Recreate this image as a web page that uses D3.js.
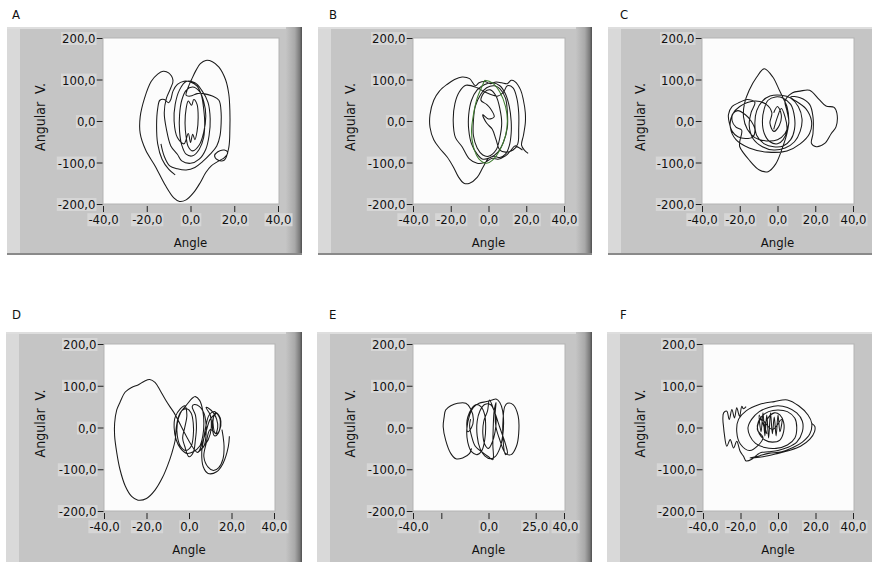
<!DOCTYPE html>
<html><head><meta charset="utf-8">
<script src="https://cdn.jsdelivr.net/npm/d3@7"></script>
<style>
body{margin:0;background:#fff;}
text{font-family:"DejaVu Sans Condensed","DejaVu Sans",sans-serif;font-size:13px;fill:#111;}
</style></head><body>
<svg id="c" width="872" height="562"></svg>
<script>
// ---------- DATA (angle, angular velocity) ----------
const panelNames = ["A","B","C","D","E","F"];
const xTicks = [-40,-20,0,20,40];
const xTicksE = [-40,-25,0,25,40];
const xTickLabelsE = ["-40,0","","0,0","25,0","40,0"];
const yTicks = [-200,-100,0,100,200];
const xLabel = "Angle";
const yLabel = "Angular  V.";

const trajA = [
[-7,-130],[-10,-116],[-13,-92],[-15,-55],[-15.5,-10],[-15,30],[-14,50],[-12,52],[-10,44],[-9,52],[-8,72],[-6,88],[-3,96],[0,94],[3,84],[5,62],[6,30],[6.5,-5],[6,-40],[4,-68],[1,-84],[-2,-80],[-4,-58],[-5,-25],[-5,15],[-4,50],[-2,74],[1,82],[4,72],[6,48],[7,12],[6,-28],[4,-58],[1,-72],[-1,-62],[-2,-38],[-2.5,-5],[-2,30],[-1,48],[0.5,38],[1.5,52],[3,40],[3.5,8],[3,-25],[2,-45],[1,-32],[0,-52],[-1,-30],[-3,-55],[-6,-40],[-7.5,0],[-7,40],[-5,75],[-2,95],[2,92],[5,75],[8,45],[9,5],[8.5,-35],[7,-68],[4,-92],[0,-102],[-4,-96],[-6,-80],
[-9,-60],[-11,-20],[-12,20],[-11,55],[-9,80],[-8,98],[-10,116],[-12.5,120],[-15,113],[-18,95],[-21,55],[-23,10],[-23,-30],[-20.5,-70],[-16,-110],[-11.5,-155],[-7.5,-186],[-5,-194],[-2,-190],[1.5,-172],[4.5,-148],[7,-124],[9.5,-108],[13,-96],[15.5,-88],[17,-76],[15.5,-70],[12.5,-74],[11,-84],[12.5,-94],[15.5,-94],[17.5,-64],[18,-20],[18,25],[17.5,65],[16,100],[13,130],[10,143],[7,146],[4.5,138],[2.5,122],[0.5,100],[-1,82],[-2,62],
[0,60],[3,66],[6,66],[10,60],[13,50],[14,20],[14,-6],[13.5,-35],[12,-60],[9,-80],[5.5,-98],[2,-112],[-2,-118],[-6,-115],[-9.5,-108],[-12,-85],[-13.5,-55]
];

const trajB = [
[21,-78],[19,-70],[17.5,-58],[18.5,-35],[19.5,-5],[19.5,20],[18.5,50],[17,75],[14,95],[12,98],[10,90],[7,92],[4,94],[1,90],[-2,95],[-5,92],[-7,85],[-10,102],[-14,106],[-18,100],[-22,88],[-26,72],[-29,50],[-31,15],[-31,-15],[-29,-45],[-26,-65],[-22,-86],[-18.7,-110],[-16,-134],[-13,-150],[-10,-150],[-6,-136],[-3,-112],[0,-90],[3,-85],[6,-88],[9,-80],[11,-60],[12,-30],[12,0],[11,35],[9,65],[6,85],[2,92],[-2,88],[-6,75],[-9,50],[-10.5,15],[-10.5,-20],[-9,-55],[-6,-80],[-3,-92],[1,-88],[5,-75],[8,-50],[10,-15],[10,20],[9,55],[6,78],[3,85],[-1,80],[-4,65],[-7,35],[-8,0],[-8,-35],[-6,-65],[-3,-82],[0,-85],[4,-70],[6,-40],[7,-5],[6,30],[4,60],[1,75],[-2,70],
[-4,50],[-1,40],[1,30],[3,10],[0,5],[-3,15],[-1,-5],[2,-20],[4,-45],
[6,-70],[9,-75],[13,-70],[15.5,-55],[16,-20],[16,20],[15,55],[13,80],[10,85],[8,70],[5,60],
[-2,70],[-6,80],[-12,86],[-15.5,70],[-17.8,42],[-18.7,0],[-17.5,-40],[-14,-62],[-10,-92],[-6,-102],[-2,-100],[2,-90],[5,-92],[9,-84],[12,-70],[14,-60],[16,-64],[18,-70]
];
const trajBGreen = [
[-2,98],[2,92],[6,70],[9,35],[10,0],[9,-35],[6,-70],[2,-95],[-1,-102],[-5,-92],[-8,-62],[-9,-25],[-8,15],[-6,55],[-3,88],[-2,98]
];

const trajC = [
[-2,-20],[0,10],[2,30],[4,10],[5,-20],[3,-45],[0,-55],[-4,-50],[-7,-30],[-8,0],[-7,30],[-5,50],[-1,58],[3,55],[7,40],[9,10],[9,-20],[7,-45],[3,-60],[-2,-62],[-7,-55],[-11,-35],[-12,-5],[-11,25],[-8,48],[-4,60],[2,62],[7,55],[11,35],[13,5],[12,-25],[9,-50],[4,-65],[-2,-70],[-8,-62],[-13,-42],[-15,-10],[-14,20],[-12,45],
[-16,52],[-20,45],[-24,35],[-26,15],[-25.5,-5],[-24,-25],[-21,-38],[-17,-42],[-13,-38],[-12,-20],[-14,0],[-17,15],[-21,25],[-23.5,18],[-24,0],[-22,-15],[-19,-22],
[-20,-50],[-20,-62],[-15,-94],[-9.6,-118],[-5,-122],[-1,-104],[2.5,-66],[5,-30],[6,0],[5,35],[3,55],[1,74],[-2.5,106],[-7,126],[-11,106],[-15,74],[-17.5,42],[-18,10],[-16,-20],[-12,-40],[-6,-48],[0,-45],[4,-30],[6,-5],[5,25],[4,48],
[8,68],[12,72],[17,74],[22,52],[25.7,36],[30,33],[31.5,18],[31,-14],[28.5,-30],[25,-54],[20.5,-62],[18,-54],[18.8,-30],[18.8,10],[17,40],[12,56],[7,58],
[15,30],[18,0],[17,-30],[12,-55],[5,-72],[-5,-75],[-15,-65],[-22,-45],[-25,-15],[-24,15],[-20,35],[-12,48],[-6,40],[-3,20],[-4,-5],[-2,-25],[1,-10],[2,15],[0,35],[-2,20]
];

const trajD = [
[19,-21],[18.5,-46],[16,-86],[13,-106],[9,-110],[6.7,-94],[6,-60],[7,-25],[8,5],[9.5,30],[12,38],[14.6,20],[13.8,-14],[12,-20],[11,0],[11.5,25],[13,35],
[10,20],[8,-10],[6,-40],[4,-60],
[-7,35],[-9,50],[-11,66],[-13.5,88],[-16,108],[-18.5,115],[-21,111],[-24,102],[-27,96],[-30,85],[-32.5,60],[-34,42],[-35,10],[-35,-20],[-34,-60],[-32.5,-100],[-30,-140],[-27,-165],[-24,-174],[-20,-170],[-16,-150],[-12.5,-120],[-10,-90],[-8,-60],[-6.5,-30],[-6,0],[-5,25],[-3.5,40],[-1,45],[1,35],[2,10],[2,-20],[1,-45],[-1.5,-55],[-4,-45],[-5.5,-20],[-5.5,10],[-4,35],[-1,55],[1.5,70],[3,74],[5,65],[6.5,40],[7,10],[6.5,-20],[5,-45],[2,-58],[-1,-62],[-4,-50],[-6,-30],[-7,0],[-6.5,25],[-4,45],[-2,52],[-1,30],[-2,0],[-3,-25],[-2,-45],[0,-70],[2,-60],[3,-30],[3.5,0],[3,30],[1.5,50],[2.5,55],[5,50],[7,35],[8,10],[8,-20],[7,-45],[4,-60],[6,-50],[9,-30],[10.5,0],[10,30],[8,48],[9.5,45],[11.5,35],[13,20],[13.5,0],[12.5,-15],[11.5,0],[11.5,25],[12.5,35],[14,30],[15,15],[14.5,-5],[13,-15],
[10,-5],[8,-40],[7,-70],[9,-95],[11.5,-103],[14,-96],[16,-75],[16.5,-45],[16,-20],[15.5,-5]
];

const trajE = [
[-9,-50],[-10,-62],[-13.7,-73],[-17.3,-75],[-20,-62],[-22.7,-30],[-24,2],[-23.5,25],[-22.7,42],[-20,52],[-16.4,58],[-12,58],[-9.5,45],[-8,20],[-9,0],[-11,-10],[-11.5,10],[-11,25],[-9,45],[-6.5,55],[-4,50],[-2,30],[-1.5,0],[-2,-30],[-3.5,-55],[-6,-65],[-9,-58],[-11,-35],[-11.5,-5],[-10,30],[-8,48],[-5,58],[-1,62],[2,66],[4,68],[6,60],[7.5,40],[8,10],[7.5,-20],[6,-50],[3.5,-70],[1,-75],[-2,-68],[-4.5,-50],[-6,-20],[-6,15],[-4.5,40],[-2,55],[1,55],[3,40],[4,20],[3.5,-10],[2,-35],[0,-50],[-2,-40],[-3,-15],[-2.5,15],[-0.5,40],[0.5,66],[3,40],[6,0],[9,-40],[10,-62],[9,-65],[7.7,-30],[7.7,18],[8.6,50],[10,58],[13,55],[15.7,28],[16,-14],[14.8,-45],[12,-65],[9,-62],
[6,-30],[4,0],[3.5,30],[4,60],[3,40],[2.5,0],[2.3,-40],[2.3,-77],[0,-70],[-3,-60],[-7,-45],[-9,-20],[-10,5],[-9.5,20]
];

const trajF = [
[-17,50],[-18.5,45],[-19.3,51],[-20.5,27],[-22,47],[-23.2,23],[-24.6,43],[-26,19],[-27.3,39],[-29,35],[-29.4,20],[-29,0],[-28.7,-13],[-27.3,-45],[-25.5,-29],[-23.7,-49],[-22,-33],[-20.2,-57],[-18.4,-69],[-17,-80],[-14,-76],[-11,-65],[-9,-60],
[-5,-58],[0,-55],[5,-48],[10,-35],[13,-10],[13,15],[10,35],[5,48],[0,52],[-5,48],[-10,38],[-14,20],[-16,0],[-15,-20],[-12,-38],[-7,-48],[-1,-50],[5,-42],[9,-25],[10,0],[9,22],[5,38],[0,42],[-5,38],[-9,25],[-11,5],[-10,-15],[-7,-30],[-3,-35],[1,-30],[3,-10],[3,12],[1,30],[-2,35],[-5,25],[-7,5],[-6,-15],
[-10,30],[-9,-10],[-8,35],[-7,-20],[-6,30],[-5,-25],[-4,35],[-3,-15],[-2,25],[-1,-20],[0,30],[1,-10],[2,20],[-3,-5],[-9,20],[-11,-5],[-8,-25],
[-15,-55],[-20,-40],[-22,-10],[-21,20],[-17,40],[-10,55],[-2,62],[5,66],[11,52],[16,30],[18,10],[17,-15],[13,-35],[8,-48],[2,-58],[-5,-62],[-10,-68],[-15,-73],[-8,-70],[0,-62],[6,-55],[12,-45],[17,-28],[19.5,-10],[19.6,3],[18,10]
];

// ---------- LAYOUT ----------
const layout = {
  A:{fx:7,fy:27,fw:295,fh:228,px0:103,px1:278,py0:38,py1:204,lx:12,ly:19,ylx:40},
  B:{fx:318,fy:27,fw:274,fh:228,px0:413,px1:564,py0:38,py1:204,lx:329,ly:19,ylx:350},
  C:{fx:608,fy:27,fw:290,fh:228,px0:702,px1:853,py0:38,py1:204,lx:620,ly:19,ylx:640},
  D:{fx:6,fy:332,fw:296,fh:240,px0:104,px1:274,py0:344,py1:511,lx:12,ly:319,ylx:40},
  E:{fx:317,fy:332,fw:275,fh:240,px0:413,px1:564,py0:344,py1:511,lx:329,ly:319,ylx:350},
  F:{fx:607,fy:332,fw:290,fh:240,px0:703,px1:853,py0:344,py1:511,lx:620,ly:319,ylx:640}
};
const series = {A:[trajA],B:[trajB],C:[trajC],D:[trajD],E:[trajE],F:[trajF]};
const greenSeries = {B:[trajBGreen]};

const svg = d3.select("#c");
const defs = svg.append("defs");
const gr = defs.append("linearGradient").attr("id","edge").attr("x1",0).attr("x2",1).attr("y1",0).attr("y2",0);
gr.append("stop").attr("offset",0).attr("stop-color","#c4c4c4");
gr.append("stop").attr("offset",0.55).attr("stop-color","#a9a9a9");
gr.append("stop").attr("offset",0.85).attr("stop-color","#7c7c7c");
gr.append("stop").attr("offset",1).attr("stop-color","#4e4e4e");

const fmt = d => d.toFixed(1).replace(".", ",");

function boxLabels(axisG) {
  axisG.selectAll(".tick").each(function() {
    const t = d3.select(this).select("text");
    if (!t.text()) return;
    const b = t.node().getBBox();
    d3.select(this).insert("rect","text")
      .attr("x",b.x-1).attr("y",b.y+1).attr("width",b.width+2).attr("height",b.height-2)
      .attr("fill","#d6d6d6");
  });
}

panelNames.forEach(name => {
  const L = layout[name];
  const g = svg.append("g");
  // frame
  g.append("rect").attr("x",L.fx).attr("y",L.fy).attr("width",L.fw).attr("height",L.fh).attr("fill","#c5c5c5");
  g.append("rect").attr("x",L.fx).attr("y",L.fy).attr("width",13).attr("height",L.fh).attr("fill","#d9d9d9");
  g.append("rect").attr("x",L.fx).attr("y",L.fy).attr("width",L.fw).attr("height",2).attr("fill","#dedede");
  g.append("rect").attr("x",L.fx+L.fw-16).attr("y",L.fy).attr("width",16).attr("height",L.fh).attr("fill","url(#edge)");
  g.append("rect").attr("x",L.fx).attr("y",L.fy+L.fh-2).attr("width",L.fw).attr("height",2).attr("fill","#8a8a8a");
  // panel letter
  svg.append("text").attr("x",L.lx).attr("y",L.ly).text(name);

  const x = d3.scaleLinear().domain([-40,40]).range([L.px0,L.px1]);
  const y = d3.scaleLinear().domain([-200,200]).range([L.py1,L.py0]);

  // plot area
  g.append("rect").attr("x",L.px0).attr("y",L.py0).attr("width",L.px1-L.px0+1).attr("height",L.py1-L.py0)
    .attr("fill","#fcfcfc").attr("stroke","#b4b4b4").attr("stroke-width",1);

  // y axis
  const yAx = g.append("g").attr("transform",`translate(${L.px0-0.5},0)`)
    .call(d3.axisLeft(y).tickValues(yTicks).tickFormat(fmt).tickSize(6).tickPadding(1));
  yAx.select(".domain").remove();
  yAx.selectAll("line").attr("stroke","#222");
  yAx.selectAll("text").style("font-size","13px").attr("fill","#111").attr("dy","0.35em");
  boxLabels(yAx);
  // x axis
  const isE = name === "E";
  const tv = isE ? xTicksE : xTicks;
  const xAx = g.append("g").attr("transform",`translate(0,${L.py1+2})`)
    .call(d3.axisBottom(x).tickValues(tv).tickFormat((d,i)=> isE ? xTickLabelsE[i] : fmt(d)).tickSize(6).tickPadding(3));
  xAx.select(".domain").remove();
  xAx.selectAll("line").attr("stroke","#222");
  xAx.selectAll("text").style("font-size","13px").attr("fill","#111");
  if (isE) {
    xAx.selectAll(".tick text").filter((d)=>d===25).attr("dx","-1");
    xAx.selectAll(".tick text").filter((d)=>d===40).attr("dx","1");
  }
  boxLabels(xAx);
  // axis titles
  g.append("text").attr("x",(L.px0+L.px1)/2).attr("y",L.py1+43).attr("text-anchor","middle").text(xLabel);
  g.append("text").attr("transform",`translate(${L.ylx},${(L.py0+L.py1)/2-4}) rotate(-90)`)
    .attr("text-anchor","middle").style("white-space","pre").style("font-size","14px").attr("dy","0.35em").text(yLabel);

  // clip
  const cid = "clip"+name;
  defs.append("clipPath").attr("id",cid).append("rect")
    .attr("x",L.px0).attr("y",L.py0).attr("width",L.px1-L.px0).attr("height",L.py1-L.py0);

  const line = d3.line().x(d=>x(d[0])).y(d=>y(d[1])).curve(d3.curveCatmullRom.alpha(0.5));
  const lg = g.append("g").attr("clip-path",`url(#${cid})`);
  series[name].forEach(s => {
    lg.append("path").attr("d",line(s)).attr("fill","none").attr("stroke","#1a1a1a").attr("stroke-width",1.05);
  });
  (greenSeries[name]||[]).forEach(s => {
    lg.append("path").attr("d",line(s)).attr("fill","none").attr("stroke","#3d7d2e").attr("stroke-width",1.05);
  });
});
</script>
</body></html>
